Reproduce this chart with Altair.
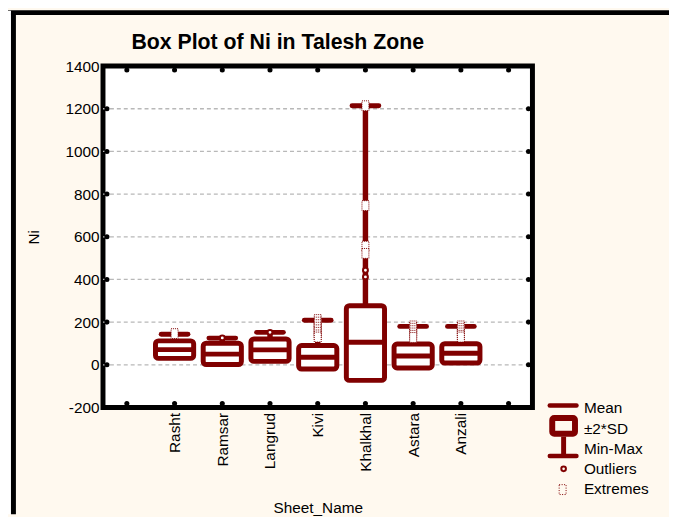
import json
import altair as alt
import pandas as pd

# ---------------- data ----------------
sheets = ["Rasht", "Ramsar", "Langrud", "Kivi", "Khalkhal", "Astara", "Anzali"]
positions = [1, 2, 3, 4, 5, 6, 7]
means = [71, 50, 70, 35, 106, 41, 54]
sd2_low = [30, 1, 16, -20, -73, -15, 8]
sd2_high = [112, 101, 121, 90, 277, 97, 99]
max_vals = [143, 125, 152, 209, 1214, 180, 180]

outlier_sheets = ["Ramsar", "Langrud", "Khalkhal", "Khalkhal"]
outlier_vals = [126, 152, 443, 412]

extreme_sheets = (["Rasht"] + ["Kivi"] * 8 + ["Khalkhal"] * 4
                  + ["Astara"] * 6 + ["Anzali"] * 6)
extreme_vals = [146,
                212, 200, 188, 176, 164, 152, 140, 130,
                1214, 746, 556, 522,
                182, 171, 160, 149, 138, 128,
                182, 171, 160, 149, 138, 130]

y_ticks = [-200, 0, 200, 400, 600, 800, 1000, 1200, 1400]
grid_vals = [0, 200, 400, 600, 800, 1000, 1200]
x_ticks = [0, 1, 2, 3, 4, 5, 6, 7, 8]
x_labels = [""] + sheets + [""]
legend_labels = ["Mean", "±2*SD", "Min-Max", "Outliers", "Extremes"]
title_text = "Box Plot of Ni in Talesh Zone"

# ---------------- style ----------------
RED = "#800000"
FONT = "Liberation Sans"
W, H = 434, 345
PAD = {"left": 96, "top": 56, "right": 138, "bottom": 108}

pos_of = dict(zip(sheets, positions))
box_df = pd.DataFrame({"sheet": sheets, "pos": positions, "mean": means,
                       "lo": sd2_low, "hi": sd2_high, "mx": max_vals})
out_df = pd.DataFrame({"pos": [pos_of[s] for s in outlier_sheets], "v": outlier_vals})
ext_df = pd.DataFrame({"pos": [pos_of[s] for s in extreme_sheets], "v": extreme_vals})
grid_df = pd.DataFrame({"v": grid_vals, "a": -0.5, "b": 8.5})
xt_top = pd.DataFrame({"pos": x_ticks, "v": 1400})
xt_bot = pd.DataFrame({"pos": x_ticks, "v": -200})
yt_left = pd.DataFrame({"pos": -0.5, "v": grid_vals})
yt_right = pd.DataFrame({"pos": 8.5, "v": grid_vals})
leg_df = pd.DataFrame({"label": legend_labels, "row": list(range(len(legend_labels)))})
one = pd.DataFrame({"k": [0]})
title_df = pd.DataFrame({"t": [title_text]})

xscale = alt.Scale(domain=[-0.5, 8.5], nice=False, zero=False)
yscale = alt.Scale(domain=[-200, 1400], nice=False, zero=False)
xaxis = alt.Axis(values=positions, labelExpr=json.dumps(x_labels) + "[datum.value]",
                 labelAngle=-90, ticks=False, tickSize=0, domain=False, grid=False,
                 title="Sheet_Name", labelPadding=5, titlePadding=30)
yaxis = alt.Axis(values=y_ticks, labelExpr="'' + datum.value", ticks=False, tickSize=0,
                 domain=False, grid=False, title="Ni", labelPadding=4, titlePadding=24)


def X(f):
    return alt.X(f"{f}:Q", scale=xscale, axis=xaxis)


def Y(f):
    return alt.Y(f"{f}:Q", scale=yscale, axis=yaxis)


grid = alt.Chart(grid_df).mark_rule(color="#B8B8B8", strokeWidth=1.3, strokeDash=[4, 3]).encode(
    x=X("a"), x2="b:Q", y=Y("v"))

base = alt.Chart(box_df).transform_calculate(
    xl="datum.pos - 0.4", xh="datum.pos + 0.4",
    cl="datum.pos - 0.28", ch="datum.pos + 0.28")

whisk = base.mark_rule(color=RED, strokeWidth=5.5).encode(x=X("pos"), y=Y("hi"), y2="mx:Q")
box = base.mark_rect(fill="white", stroke=RED, strokeWidth=5, cornerRadius=3).encode(
    x=X("xl"), x2="xh:Q", y=Y("lo"), y2="hi:Q")
mean_l = base.mark_rule(color=RED, strokeWidth=5).encode(x=X("xl"), x2="xh:Q", y=Y("mean"))
cap = base.mark_rule(color=RED, strokeWidth=5, strokeCap="round").encode(
    x=X("cl"), x2="ch:Q", y=Y("mx"))

ext_shape = "M-0.7,-1H0.7V1H-0.7Z"
outl = alt.Chart(out_df).mark_point(shape="circle", filled=True, fill="white", stroke=RED,
                                    strokeWidth=2, size=24, opacity=1).encode(x=X("pos"), y=Y("v"))
ext = alt.Chart(ext_df).mark_point(shape=ext_shape, filled=True, fill="white", stroke=RED,
                                   strokeWidth=1, strokeDash=[1, 1], size=100,
                                   opacity=1).encode(x=X("pos"), y=Y("v"))

dot = dict(filled=True, color="black", size=26, opacity=1)
d_top = alt.Chart(xt_top).mark_point(yOffset=4, **dot).encode(x=X("pos"), y=Y("v"))
d_bot = alt.Chart(xt_bot).mark_point(yOffset=-4, **dot).encode(x=X("pos"), y=Y("v"))
d_left = alt.Chart(yt_left).mark_point(xOffset=4, **dot).encode(x=X("pos"), y=Y("v"))
d_right = alt.Chart(yt_right).mark_point(xOffset=-4, **dot).encode(x=X("pos"), y=Y("v"))

# chart title (text mark, so the window frame does not push it away)
title = alt.Chart(title_df).mark_text(
    align="left", baseline="alphabetic", font=FONT, fontSize=21.5, fontWeight="bold",
    color="black").encode(x=alt.value(28.7), y=alt.value(-17), text="t:N")

# outer window frame (decoration)
fr_top = alt.Chart(one).mark_rule(color="black", strokeWidth=5).encode(
    x=alt.value(-96), x2=alt.value(572), y=alt.value(-54))
fr_white = alt.Chart(one).mark_rule(color="white", strokeWidth=3).encode(
    x=alt.value(-94.5), y=alt.value(-56), y2=alt.value(453))
fr_left = alt.Chart(one).mark_rule(color="black", strokeWidth=5).encode(
    x=alt.value(-90.5), y=alt.value(-54), y2=alt.value(453))

# legend (decoration)
lg_mean = alt.Chart(one).mark_rule(color=RED, strokeWidth=4.5, strokeCap="round").encode(
    x=alt.value(451.5), x2=alt.value(478.5), y=alt.value(343))
lg_box = alt.Chart(one).mark_rect(fill=None, stroke=RED, strokeWidth=6, cornerRadius=2).encode(
    x=alt.value(454), x2=alt.value(477), y=alt.value(355.7), y2=alt.value(371.5))
lg_wh = alt.Chart(one).mark_rule(color=RED, strokeWidth=5).encode(
    x=alt.value(465.5), y=alt.value(374.5), y2=alt.value(394))
lg_cap = alt.Chart(one).mark_rule(color=RED, strokeWidth=4.5, strokeCap="round").encode(
    x=alt.value(451.5), x2=alt.value(478.5), y=alt.value(394))
lg_out = alt.Chart(one).mark_point(shape="circle", filled=False, stroke=RED, strokeWidth=2,
                                   size=22, opacity=1).encode(x=alt.value(465.5), y=alt.value(407))
lg_ext = alt.Chart(one).mark_point(shape=ext_shape, filled=False, stroke=RED, strokeWidth=1,
                                   strokeDash=[1, 1.5], size=100, opacity=1).encode(
    x=alt.value(464.5), y=alt.value(428))
lg_text = alt.Chart(leg_df).transform_calculate(yp="346 + datum.row * 20.4").mark_text(
    align="left", baseline="middle", font=FONT, fontSize=15.5, color="black").encode(
    x=alt.value(486), y=alt.Y("yp:Q", scale=None, axis=None), text="label:N")

chart = alt.layer(
    grid, whisk, box, mean_l, cap, outl, ext, d_top, d_bot, d_left, d_right,
    title, fr_top, fr_white, fr_left,
    lg_mean, lg_box, lg_wh, lg_cap, lg_out, lg_ext, lg_text,
).properties(
    width=W, height=H,
    padding=PAD,
    autosize=alt.AutoSizeParams(type="none"),
    background="#FFF9EF",
).configure_view(
    fill="white", stroke="black", strokeWidth=5
).configure_axis(
    labelFont=FONT, titleFont=FONT, labelFontSize=15.5, titleFontSize=15.5,
    labelColor="black", titleColor="black", titleFontWeight="normal"
)

chart.save("out.html", embed_options={"renderer": "svg", "actions": False})
